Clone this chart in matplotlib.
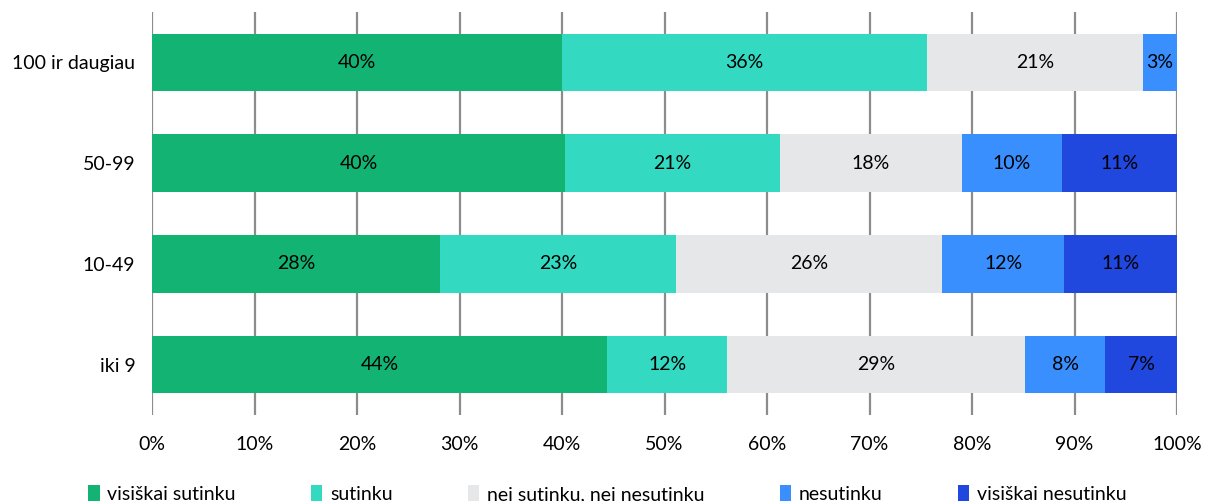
import matplotlib
matplotlib.use("Agg")
import matplotlib.pyplot as plt
from matplotlib.patches import Patch

plt.rcParams['font.family'] = ['Lato', 'DejaVu Sans']

categories = ["100 ir daugiau", "50-99", "10-49", "iki 9"]
series_names = ["visiškai sutinku", "sutinku", "nei sutinku, nei nesutinku",
                "nesutinku", "visiškai nesutinku"]
visiskai_sutinku = [40.0, 40.3, 28.1, 44.4]
sutinku = [35.6, 21.0, 23.0, 11.7]
nei_nei = [21.1, 17.7, 26.0, 29.1]
nesutinku = [3.3, 9.8, 11.9, 7.8]
visiskai_nesutinku = [0.0, 11.2, 11.0, 7.0]
colors = ["#13B374", "#33D9C1", "#E6E7E9", "#3A8FFF", "#2148DE"]
xticks = [0, 10, 20, 30, 40, 50, 60, 70, 80, 90, 100]

series = [visiskai_sutinku, sutinku, nei_nei, nesutinku, visiskai_nesutinku]
FS = 14

fig = plt.figure(figsize=(12.17, 5.01), dpi=100)
ax = fig.add_axes([152 / 1217, 1 - 415 / 501, (1177 - 152) / 1217, 403 / 501])

ypos = list(range(len(categories)))
left = [0.0] * len(categories)
for name, vals, col in zip(series_names, series, colors):
    bars = ax.barh(ypos, vals, left=left, height=0.57, color=col, label=name,
                   zorder=3)
    for b, v, l in zip(bars, vals, left):
        if v > 0:
            ax.text(l + v / 2, b.get_y() + b.get_height() / 2, f"{v:.0f}%",
                    ha="center", va="center", fontsize=FS, color="#000000",
                    zorder=4)
    left = [a + b for a, b in zip(left, vals)]

ax.set_xlim(0, 100)
ax.set_ylim(3.5, -0.5)
ax.set_xticks(xticks)
ax.set_xticklabels([f"{t}%" for t in xticks], fontsize=FS)
ax.set_yticks(ypos)
ax.set_yticklabels(categories, fontsize=FS)
ax.tick_params(axis="both", length=0)
ax.tick_params(axis="x", pad=15)
ax.tick_params(axis="y", pad=12)
ax.grid(axis="x", color="#8C8C8C", linewidth=1.6, zorder=0)
for s in ax.spines.values():
    s.set_visible(False)

handles = [Patch(facecolor=c, edgecolor="none") for c in colors]
fig.legend(handles, series_names, loc="center left",
           bbox_to_anchor=(88 / 1217, 1 - 494 / 501), ncol=5, frameon=False,
           fontsize=FS, borderpad=0, borderaxespad=0, handlelength=0.6,
           handleheight=0.9, handletextpad=0.4, columnspacing=3.85)

fig.savefig("out.png", dpi=100)
